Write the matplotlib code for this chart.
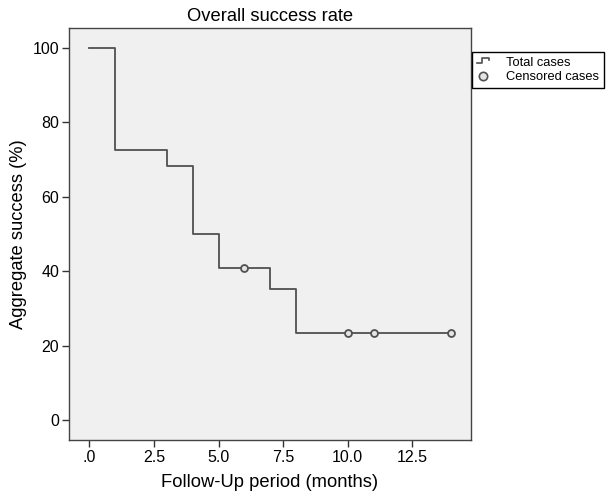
import matplotlib
matplotlib.use("Agg")
import matplotlib.pyplot as plt
from matplotlib.lines import Line2D
from matplotlib.legend_handler import HandlerBase

plt.rcParams['font.family'] = ['Liberation Sans', 'DejaVu Sans']

# Step survival data
step_times = [0, 1, 3, 4, 5, 7, 8, 14]
step_values = [100, 72.7, 68.2, 50.0, 40.9, 35.1, 23.4, 23.4]
censor_times = [6, 10, 11, 14]
censor_values = [40.9, 23.4, 23.4, 23.4]
xticks = [0, 2.5, 5.0, 7.5, 10.0, 12.5]
xtick_labels = ['.0', '2.5', '5.0', '7.5', '10.0', '12.5']
yticks = [0, 20, 40, 60, 80, 100]

line_color = '#505050'

fig = plt.figure(figsize=(6.12, 4.96), dpi=100)
ax = fig.add_axes([69/612, 1-440/496, (471-69)/612, (440-28)/496])
ax.set_facecolor('#f0f0f0')

ax.step(step_times, step_values, where='post', color=line_color, lw=1.3)
ax.plot(censor_times, censor_values, 'o', ms=5, mfc='#e4e4e4', mec=line_color, mew=1.3, ls='none')

ax.set_xlim(-0.786, 14.77)
ax.set_ylim(-5.38, 105.4)
ax.set_xticks(xticks)
ax.set_xticklabels(xtick_labels)
ax.set_yticks(yticks)
ax.tick_params(direction='out', length=5, width=1, color='#333333', labelsize=11.5, pad=2)
for s in ax.spines.values():
    s.set_color('#444444')
    s.set_linewidth(1)

ax.set_title('Overall success rate', fontsize=13.2, pad=5)
ax.set_xlabel('Follow-Up period (months)', fontsize=13.2, labelpad=7)
ax.set_ylabel('Aggregate success (%)', fontsize=13.2, labelpad=4)


class StepHandler(HandlerBase):
    def create_artists(self, legend, orig_handle, xdescent, ydescent, width, height, fontsize, trans):
        x0 = -xdescent
        y0 = -ydescent
        xs = [x0, x0 + width * 0.45, x0 + width * 0.45, x0 + width, x0 + width]
        ys = [y0 + height * 0.3, y0 + height * 0.3, y0 + height * 0.85, y0 + height * 0.85, y0 + height * 0.6]
        ln = Line2D(xs, ys, color=line_color, lw=1.2, transform=trans)
        return [ln]


step_handle = Line2D([], [], color=line_color)
circ_handle = Line2D([], [], marker='o', ls='none', ms=6, mfc='#e4e4e4', mec=line_color, mew=1.2)
leg = fig.legend([step_handle, circ_handle], ['Total cases', 'Censored cases'],
                 handler_map={step_handle: StepHandler()},
                 loc='upper left', bbox_to_anchor=(472/612, 1-52/496),
                 bbox_transform=fig.transFigure, frameon=True, fancybox=False,
                 edgecolor='black', framealpha=1, fontsize=9.3, borderaxespad=0,
                 handlelength=1.0, handletextpad=1.3, borderpad=0.35, labelspacing=0.2)
leg.get_frame().set_linewidth(1)

fig.savefig('out.png', dpi=100)
